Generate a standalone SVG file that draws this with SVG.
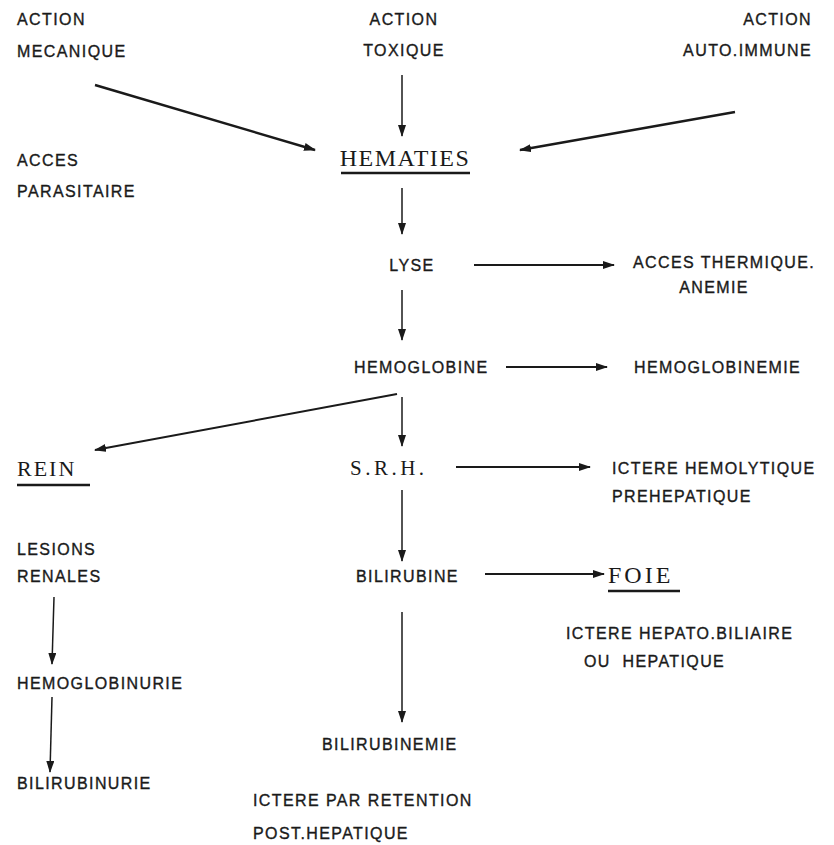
<svg xmlns="http://www.w3.org/2000/svg" width="834" height="845" viewBox="0 0 834 845">
<style>
.t{font-family:"Liberation Sans",Arial,sans-serif;font-size:16px;letter-spacing:1.4px;fill:#1a1a1a;stroke:#1a1a1a;stroke-width:0.35;}
.s{font-family:"Liberation Serif","Times New Roman",serif;fill:#1a1a1a;}
.c{stroke:#1a1a1a;fill:none;}
.u{stroke:#1a1a1a;stroke-width:2.5;}
</style>
<defs>
<marker id="ah" viewBox="0 0 12 8" refX="11" refY="4" markerWidth="12" markerHeight="8" markerUnits="userSpaceOnUse" orient="auto">
<path d="M0,0 L12,4 L0,8 Z" fill="#1a1a1a"/>
</marker>
</defs>
<rect width="834" height="845" fill="#ffffff"/>
<g id="connectors">
<line class="c" stroke-width="2.4" x1="95" y1="85" x2="315" y2="150" marker-end="url(#ah)"/>
<line class="c" stroke-width="1.5" x1="402" y1="75" x2="402" y2="136" marker-end="url(#ah)"/>
<line class="c" stroke-width="2.4" x1="735" y1="112" x2="520" y2="150" marker-end="url(#ah)"/>
<line class="c" stroke-width="1.5" x1="402" y1="188" x2="402" y2="234" marker-end="url(#ah)"/>
<line class="c" stroke-width="2" x1="474" y1="265" x2="614" y2="265" marker-end="url(#ah)"/>
<line class="c" stroke-width="1.5" x1="402" y1="290" x2="402" y2="340" marker-end="url(#ah)"/>
<line class="c" stroke-width="2" x1="506" y1="367" x2="607" y2="367" marker-end="url(#ah)"/>
<line class="c" stroke-width="2" x1="397" y1="394" x2="95" y2="450" marker-end="url(#ah)"/>
<line class="c" stroke-width="1.5" x1="402" y1="397" x2="402" y2="446" marker-end="url(#ah)"/>
<line class="c" stroke-width="2" x1="456" y1="467" x2="590" y2="467" marker-end="url(#ah)"/>
<line class="c" stroke-width="1.5" x1="402" y1="490" x2="402" y2="561" marker-end="url(#ah)"/>
<line class="c" stroke-width="2" x1="485" y1="574" x2="604" y2="574" marker-end="url(#ah)"/>
<line class="c" stroke-width="1.5" x1="54" y1="597" x2="52" y2="664" marker-end="url(#ah)"/>
<line class="c" stroke-width="1.5" x1="52" y1="697" x2="50" y2="772" marker-end="url(#ah)"/>
<line class="c" stroke-width="1.5" x1="402" y1="612" x2="402" y2="722" marker-end="url(#ah)"/>
</g>
<g id="action-mecanique"><text class="t" x="17" y="25">ACTION</text><text class="t" x="17" y="57">MECANIQUE</text></g>
<g id="action-toxique"><text class="t" x="404" y="25" text-anchor="middle">ACTION</text><text class="t" x="404" y="56" text-anchor="middle">TOXIQUE</text></g>
<g id="action-auto-immune"><text class="t" x="812" y="25" text-anchor="end">ACTION</text><text class="t" x="812" y="56" text-anchor="end">AUTO.IMMUNE</text></g>
<g id="acces-parasitaire"><text class="t" x="17" y="166">ACCES</text><text class="t" x="17" y="197">PARASITAIRE</text></g>
<g id="hematies"><text class="s" x="405" y="166" font-size="24" letter-spacing="1.5" text-anchor="middle">HEMATIES</text><line class="u" x1="341" y1="173" x2="470" y2="173"/></g>
<g id="lyse"><text class="t" x="412" y="271" text-anchor="middle">LYSE</text></g>
<g id="acces-thermique"><text class="t" x="633" y="268">ACCES THERMIQUE.</text><text class="t" x="714" y="293" text-anchor="middle">ANEMIE</text></g>
<g id="hemoglobine"><text class="t" x="354" y="373">HEMOGLOBINE</text></g>
<g id="hemoglobinemie"><text class="t" x="634" y="373">HEMOGLOBINEMIE</text></g>
<g id="rein"><text class="s" x="17" y="476" font-size="22" letter-spacing="2">REIN</text><line class="u" x1="17" y1="485" x2="90" y2="485"/></g>
<g id="srh"><text class="s" x="350" y="475" font-size="21" letter-spacing="3.5">S.R.H.</text></g>
<g id="ictere-hemolytique"><text class="t" x="612" y="474">ICTERE HEMOLYTIQUE</text><text class="t" x="612" y="502">PREHEPATIQUE</text></g>
<g id="lesions-renales"><text class="t" x="17" y="555">LESIONS</text><text class="t" x="17" y="582">RENALES</text></g>
<g id="bilirubine"><text class="t" x="356" y="582">BILIRUBINE</text></g>
<g id="foie"><text class="s" x="608" y="583" font-size="24" letter-spacing="3">FOIE</text><line class="u" x1="608" y1="591" x2="680" y2="591"/></g>
<g id="ictere-hepato"><text class="t" x="566" y="639">ICTERE HEPATO.BILIAIRE</text><text class="t" x="584" y="667" xml:space="preserve">OU  HEPATIQUE</text></g>
<g id="hemoglobinurie"><text class="t" x="17" y="689">HEMOGLOBINURIE</text></g>
<g id="bilirubinurie"><text class="t" x="17" y="789">BILIRUBINURIE</text></g>
<g id="bilirubinemie"><text class="t" x="322" y="750">BILIRUBINEMIE</text></g>
<g id="ictere-retention"><text class="t" x="253" y="806">ICTERE PAR RETENTION</text><text class="t" x="253" y="839">POST.HEPATIQUE</text></g>
</svg>
